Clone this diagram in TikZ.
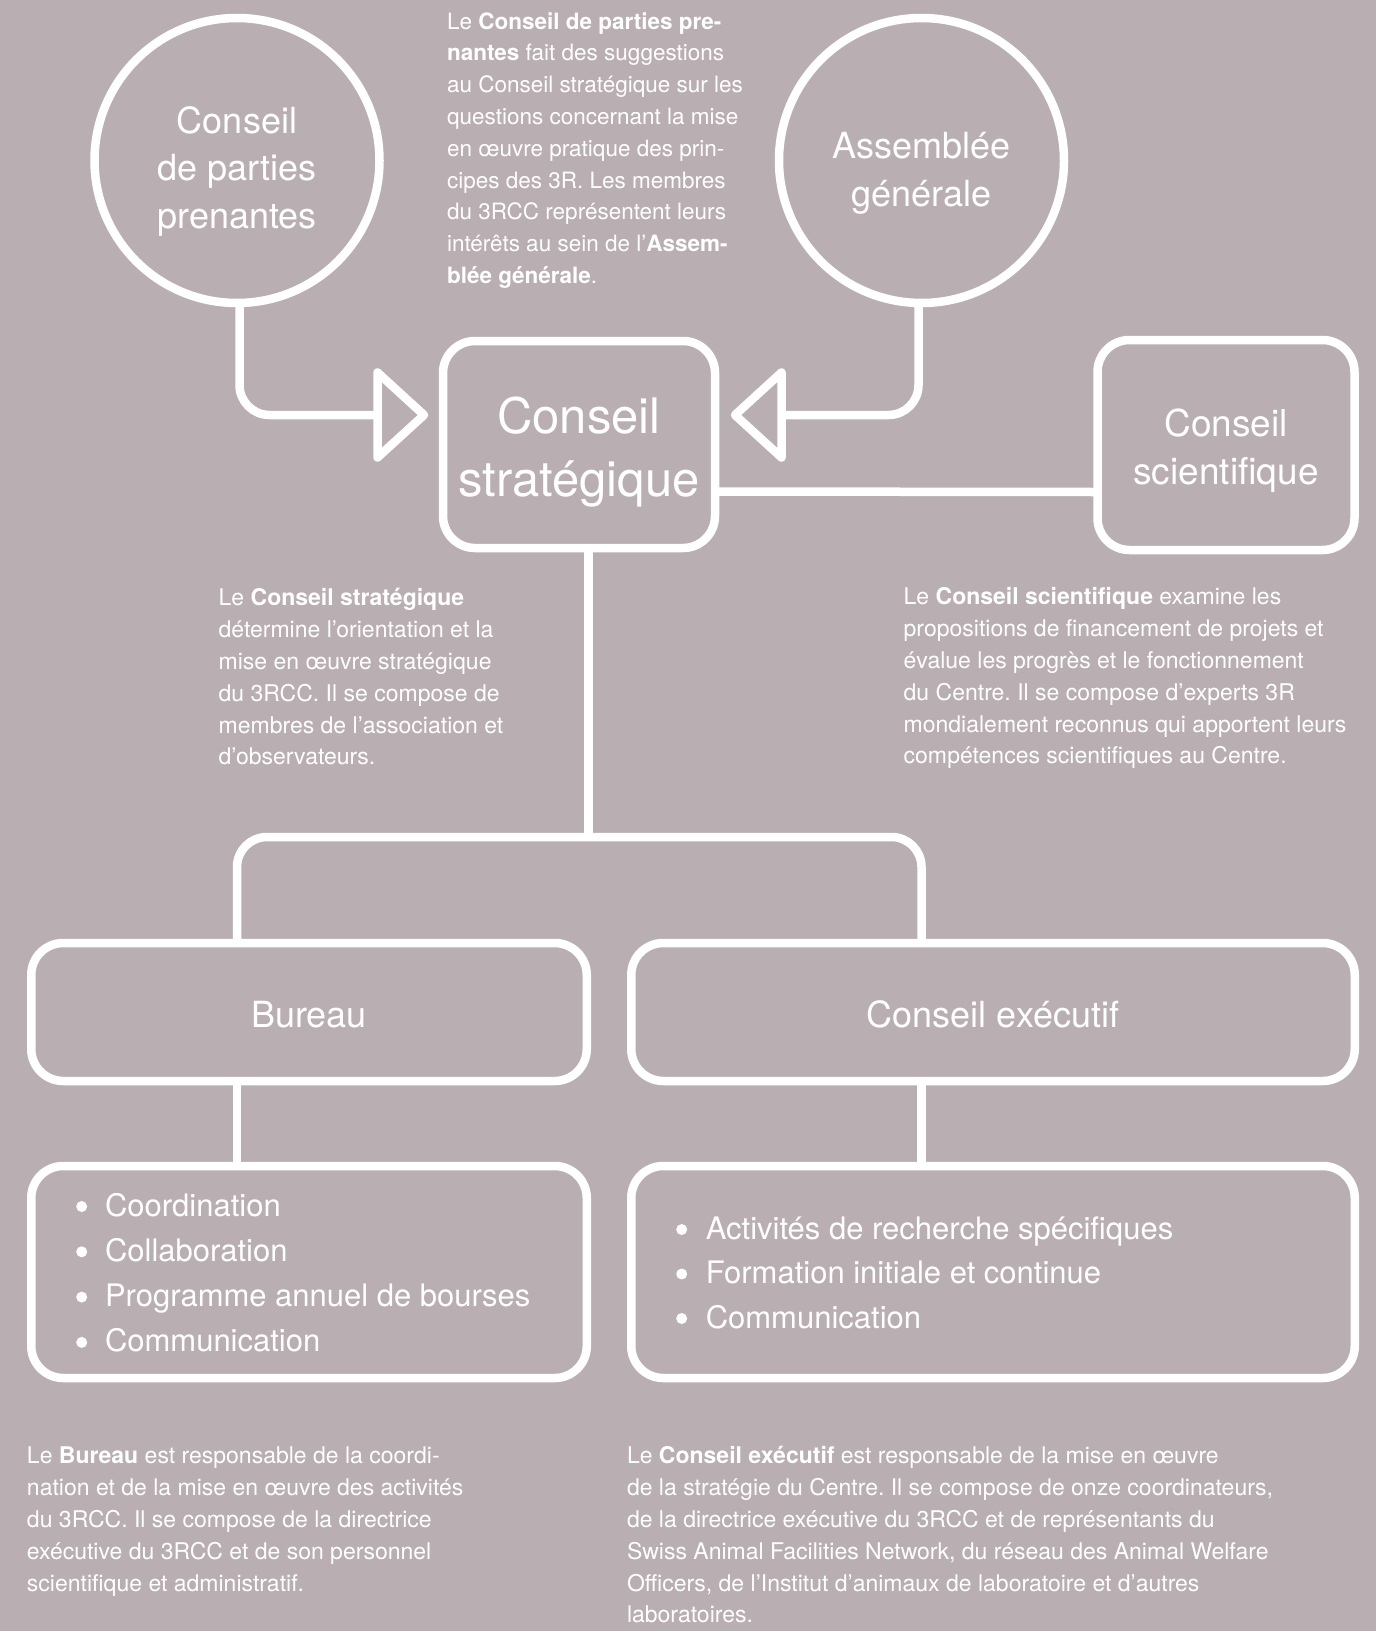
\documentclass[tikz,border=0pt]{standalone}
\usepackage{fontspec}
\setmainfont{TeX Gyre Heros}
\definecolor{bg}{HTML}{B9AEB1}
\begin{document}
\frenchspacing
\begin{tikzpicture}[x=1pt,y=-1pt,
  wire/.style={draw=white, line width=8.5pt},
  boxnode/.style={draw=white, line width=8.5pt, rounded corners=32pt, inner sep=0pt, outer sep=0pt},
  circnode/.style={circle, draw=white, line width=8.5pt, minimum size=285pt, inner sep=0pt, outer sep=0pt},
  lbl/.style={text=white, inner sep=0pt, outer sep=0pt, align=center, anchor=north},
  desc/.style={text=white, inner sep=0pt, outer sep=0pt, align=left, anchor=north west, font=\fontsize{23}{31.8}\selectfont\frenchspacing},
  lst/.style={text=white, inner sep=0pt, outer sep=0pt, align=left, anchor=north west},
  bul/.style={fill=white},
]
\fill[bg] (0,0) rectangle (1376,1631);
\useasboundingbox (0,0) rectangle (1376,1631);

% shapes
\node[circnode] (c1) at (237,160.5) {};
\node[circnode] (c2) at (921.5,160.5) {};
\node[boxnode, minimum width=272pt, minimum height=207pt] (cs) at (579,444.5) {};
\node[boxnode, minimum width=257pt, minimum height=210pt] (sci) at (1226,445) {};
\node[boxnode, minimum width=555.5pt, minimum height=138pt] (bur) at (309,1012) {};
\node[boxnode, minimum width=723.5pt, minimum height=138pt] (exe) at (993,1012) {};
\node[boxnode, minimum width=555.5pt, minimum height=212pt] (bl) at (309,1272) {};
\node[boxnode, minimum width=723.5pt, minimum height=212pt] (el) at (993,1272) {};

% labels
\node[lbl, font=\fontsize{36}{47.5}\selectfont] (t1) at (237,99.75) {\strut Conseil\\de parties\\prenantes};
\node[lbl, font=\fontsize{36}{48}\selectfont] (t2) at (921.5,124.4) {\strut Assemblée\\générale};
\node[lbl, font=\fontsize{49}{63}\selectfont] (t3) at (579,388.9) {\strut Conseil\\stratégique};
\node[lbl, font=\fontsize{37}{47.5}\selectfont] (t4) at (1226,403.4) {\strut Conseil\\scientifique};
\node[lbl, anchor=base, font=\fontsize{36}{45}\selectfont] (t5) at (309,1027) {Bureau};
\node[lbl, anchor=base, font=\fontsize{36}{45}\selectfont] (t6) at (993,1027) {Conseil exécutif};

% bullet lists
\node[lst, font=\fontsize{31}{45.3}\selectfont] (l1) at (105,1184.3) {\strut Coordination\\
Collaboration\\
Programme annuel de bourses\\
Communication};
\node[lst, font=\fontsize{31}{44.5}\selectfont] (l2) at (705.8,1207.85) {\strut Activités de recherche spécifiques\\
Formation initiale et continue\\
Communication};
\foreach \yy in {1206.5,1251.8,1297.1,1342.4} \fill[bul] (81.7,\yy) circle (5.5pt);
\foreach \yy in {1229.5,1274,1318.5} \fill[bul] (681.7,\yy) circle (5.5pt);

% descriptions
\node[desc, font=\fontsize{22.5}{31.8}\selectfont\frenchspacing] (d1) at (447,6.74) {\strut Le \textbf{Conseil de parties pre-}\\
\textbf{nantes} fait des suggestions\\
au Conseil stratégique sur les\\
questions concernant la mise\\
en œuvre pratique des prin-\\
cipes des 3R. Les membres\\
du 3RCC représentent leurs\\
intérêts au sein de l{\char"0027}\textbf{Assem-}\\
\textbf{blée générale}.};
\node[desc] (d2) at (218.7,583.7) {\strut Le \textbf{Conseil stratégique}\\
détermine l’orientation et la\\
mise en œuvre stratégique\\
du 3RCC. Il se compose de\\
membres de l’association et\\
d’observateurs.};
\node[desc] (d3) at (903.7,582.7) {\strut Le \textbf{Conseil scientifique} examine les\\
propositions de financement de projets et\\
évalue les progrès et le fonctionnement\\
du Centre. Il se compose d’experts 3R\\
mondialement reconnus qui apportent leurs\\
compétences scientifiques au Centre.};
\node[desc] (d4) at (27,1441.7) {\strut Le \textbf{Bureau} est responsable de la coordi-\\
nation et de la mise en œuvre des activités\\
du 3RCC. Il se compose de la directrice\\
exécutive du 3RCC et de son personnel\\
scientifique et administratif.};
\node[desc] (d5) at (627,1441.7) {\strut Le \textbf{Conseil exécutif} est responsable de la mise en œuvre\\
de la stratégie du Centre. Il se compose de onze coordinateurs,\\
de la directrice exécutive du 3RCC et de représentants du\\
Swiss Animal Facilities Network, du réseau des Animal Welfare\\
Officers, de l’Institut d’animaux de laboratoire et d’autres\\
laboratoires.};

% connectors
\coordinate (backL) at (377.5,415);
\coordinate (tipL) at (424,415);
\coordinate (backR) at (781.5,415);
\coordinate (tipR) at (735,415);
\coordinate (split) at (588.5,837);

\draw[wire, rounded corners=30pt] ([xshift=2.5pt]c1.south) |- (backL);
\draw[wire, line join=round] (backL) ++(0,-42.5) -- ++(0,85) -- (tipL) -- cycle;
\draw[wire, rounded corners=30pt] ([xshift=-3pt]c2.south) |- (backR);
\draw[wire, line join=round] (backR) ++(0,-42.5) -- ++(0,85) -- (tipR) -- cycle;

\draw[wire] ([yshift=-47pt]cs.east) -- ([yshift=-47pt]sci.west);
\draw[wire] (cs.south -| split) -- (split);
\draw[wire, rounded corners=30pt] (bur.north -| c1.center) |- (split) -| (exe.north -| c2.center);
\draw[wire] (bur.south -| c1.center) -- (bl.north -| c1.center);
\draw[wire] (exe.south -| c2.center) -- (el.north -| c2.center);
\end{tikzpicture}
\end{document}
